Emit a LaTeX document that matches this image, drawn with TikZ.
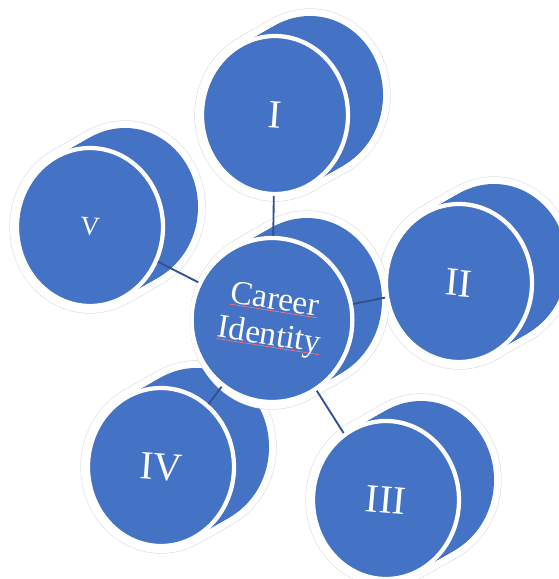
\documentclass[tikz,border=0pt]{standalone}
\usepackage{fontspec}
\setmainfont{Liberation Serif}
\usepackage{xcolor}
\usetikzlibrary{shapes.geometric}
\definecolor{DiskBlue}{RGB}{68,114,196}
\definecolor{LinkBlue}{RGB}{47,82,143}
\pgfdeclarelayer{back}
\pgfsetlayers{back,main}

% back part of a disk: node, x radius, y radius (in px)
\newcommand{\diskback}[3]{%
  \foreach \t in {0,0.05,...,1.001}
    \draw[gray!30,line width=11.4pt] ([shift={(35*\t,-20*\t)}]#1.center) ellipse [x radius=#2, y radius=#3];
  \foreach \t in {0,0.05,...,1.001}
    \draw[white,line width=10.6pt] ([shift={(35*\t,-20*\t)}]#1.center) ellipse [x radius=#2, y radius=#3];
  \foreach \t in {0,0.05,...,1.001}
    \fill[DiskBlue] ([shift={(35*\t,-20*\t)}]#1.center) ellipse [x radius=#2, y radius=#3];
}
% label, a little tilted and lowered
\newcommand{\disklabel}[2]{\raisebox{-4pt}{\rotatebox{#1}{#2}}}
\newcommand{\spellmark}[1]{\setbox0\hbox{#1}\rlap{\color{red!55}\rule[-1.5pt]{\wd0}{0.5pt}}\box0}

\begin{document}
\begin{tikzpicture}[x=0.75pt,y=-0.75pt,
  disk/.style={ellipse,fill=DiskBlue,draw=white,line width=3.2pt,inner sep=0pt,
    text=white,minimum width=109.5pt,minimum height=118.5pt,
    font=\fontsize{30}{34}\selectfont},
  link/.style={LinkBlue,line width=1.4pt}]
  \useasboundingbox (0,0) rectangle (558,579);

  \node[disk,minimum width=112.5pt,minimum height=123pt,
        font=\fontsize{25}{27}\selectfont] (hub) at (272,320)
    {\disklabel{-9}{\begin{tabular}{@{}c@{}}\spellmark{Career}\\\spellmark{Identity}\end{tabular}}};
  \node[disk] (one) at (275,115) {\disklabel{-4}{I}};
  \node[disk] (two) at (459,283) {\disklabel{-5}{II}};
  \node[disk] (three) at (386,500) {\disklabel{-5}{III}};
  \node[disk] (four) at (161,467) {\disklabel{-4}{IV}};
  \node[disk,font=\fontsize{20}{24}\selectfont] (five) at (90,227) {\raisebox{-2pt}{\disklabel{-4}{V}}};

  \begin{pgfonlayer}{back}
    \diskback{one}{73}{79}
    \diskback{two}{73}{79}
    \diskback{three}{73}{79}
    \diskback{four}{73}{79}
    \diskback{five}{73}{79}
    \diskback{hub}{75}{82}
  \end{pgfonlayer}

  \draw[link] (hub) -- (one);
  \draw[link] (hub) -- (two);
  \draw[link] (hub) -- (three);
  \draw[link] (hub) -- (four);
  \draw[link] (hub) -- (five);
\end{tikzpicture}
\end{document}
